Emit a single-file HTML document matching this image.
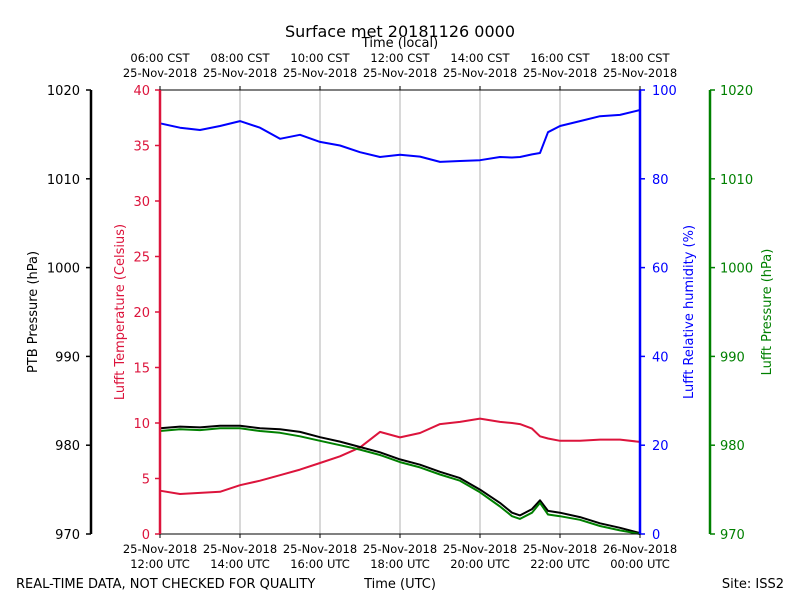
<!DOCTYPE html>
<html><head><meta charset="utf-8"><style>
body{margin:0;background:#fff}
svg{font-family:"DejaVu Sans","Liberation Sans",sans-serif}
</style></head><body>
<svg id="c" width="800" height="600" viewBox="0 0 800 600">
<rect width="800" height="600" fill="#fff"/>
<text x="400" y="37" font-size="16" text-anchor="middle">Surface met 20181126 0000</text>
<text x="400" y="47" font-size="13" text-anchor="middle">Time (local)</text>
<g id="grid"></g>
<g id="series"></g>
<g id="axes"></g>
<text x="16" y="588" font-size="13">REAL-TIME DATA, NOT CHECKED FOR QUALITY</text>
<text x="400" y="588" font-size="13" text-anchor="middle">Time (UTC)</text>
<text x="784" y="588" font-size="13" text-anchor="end">Site: ISS2</text>
<text transform="translate(37,312) rotate(-90)" font-size="13" text-anchor="middle">PTB Pressure (hPa)</text>
<text transform="translate(124,312) rotate(-90)" font-size="13" fill="#dc143c" text-anchor="middle">Lufft Temperature (Celsius)</text>
<text transform="translate(693,312) rotate(-90)" font-size="13" fill="#0000ff" text-anchor="middle">Lufft Relative humidity (%)</text>
<text transform="translate(771,312) rotate(-90)" font-size="13" fill="#008000" text-anchor="middle">Lufft Pressure (hPa)</text>
</svg>
<script>
const hours=[0,0.5,1,1.5,2,2.5,3,3.5,4,4.5,5,5.5,6,6.5,7,7.5,8,8.5,8.8,9,9.3,9.5,9.7,10,10.5,11,11.5,12];
const tempC=[3.9,3.6,3.7,3.8,4.4,4.8,5.3,5.8,6.4,7.0,7.8,9.2,8.7,9.1,9.9,10.1,10.4,10.1,10.0,9.9,9.5,8.8,8.6,8.4,8.4,8.5,8.5,8.3];
const ptbP=[981.9,982.1,982.0,982.2,982.2,981.9,981.8,981.5,980.9,980.4,979.8,979.2,978.4,977.8,977.0,976.3,975.0,973.5,972.4,972.1,972.8,973.8,972.6,972.4,971.9,971.2,970.7,970.1];
const lufftP=[981.6,981.8,981.7,981.9,981.9,981.6,981.4,981.0,980.5,980.0,979.5,978.9,978.1,977.5,976.7,976.0,974.7,973.1,972.0,971.7,972.4,973.5,972.2,972.0,971.6,970.9,970.4,970.0];
const rh=[92.5,91.5,91.0,91.9,93.0,91.5,89.0,89.9,88.3,87.5,86.0,84.9,85.4,85.0,83.8,84.0,84.2,84.9,84.8,84.9,85.5,85.8,90.5,91.9,93.0,94.1,94.4,95.5];
const bottomTicks=["25-Nov-2018|12:00 UTC","25-Nov-2018|14:00 UTC","25-Nov-2018|16:00 UTC","25-Nov-2018|18:00 UTC","25-Nov-2018|20:00 UTC","25-Nov-2018|22:00 UTC","26-Nov-2018|00:00 UTC"];
const topTicks=["06:00 CST|25-Nov-2018","08:00 CST|25-Nov-2018","10:00 CST|25-Nov-2018","12:00 CST|25-Nov-2018","14:00 CST|25-Nov-2018","16:00 CST|25-Nov-2018","18:00 CST|25-Nov-2018"];
const tempTicks=[0,5,10,15,20,25,30,35,40];
const rhTicks=[0,20,40,60,80,100];
const pTicks=[970,980,990,1000,1010,1020];

const NS="http://www.w3.org/2000/svg";
const L=160,R=640,T=90,B=534;
const xs=h=>L+(R-L)*h/12;
const yT=v=>B-(B-T)*v/40;
const yRH=v=>B-(B-T)*v/100;
const yP=v=>B-(B-T)*(v-970)/50;
function mk(tag,attrs,parent){const e=document.createElementNS(NS,tag);for(const k in attrs)e.setAttribute(k,attrs[k]);parent.appendChild(e);return e;}
const grid=document.getElementById('grid'),ser=document.getElementById('series'),ax=document.getElementById('axes');
for(let i=1;i<6;i++){const g=mk('line',{x1:xs(i*2),x2:xs(i*2),y1:T,y2:B,stroke:'#b0b0b0','stroke-width':1},grid);

}
function line(vals,fy,color,w,name){const d=hours.map((h,i)=>(i?'L':'M')+xs(h).toFixed(1)+','+fy(vals[i]).toFixed(1)).join('');
const p=mk('path',{d:d,fill:'none',stroke:color,'stroke-width':w,'stroke-linejoin':'round'},ser);

}
line(rh,yRH,'#0000ff',2,'humidity-line');
line(tempC,yT,'#dc143c',2,'temperature-line');
line(ptbP,yP,'#000000',2,'ptb-pressure-line');
line(lufftP,yP,'#008000',2,'lufft-pressure-line');
const fr=mk('rect',{x:L,y:T,width:R-L,height:B-T,fill:'none',stroke:'#000','stroke-width':1},ax);


function spine(x,color,name){const s=mk('line',{x1:x,x2:x,y1:T,y2:B,stroke:color,'stroke-width':2.5},ax);

}
spine(91,'#000','ptb-pressure-axis');spine(L,'#dc143c','temperature-axis');spine(R,'#0000ff','humidity-axis');spine(710,'#008000','lufft-pressure-axis');
function ylab(x,y,txt,color,anchor,name){const t=mk('text',{x:x,y:y+5,'font-size':13,fill:color,'text-anchor':anchor},ax);t.textContent=txt;

}
pTicks.forEach(v=>{const y=yP(v);mk('line',{x1:86,x2:91,y1:y,y2:y,stroke:'#000','stroke-width':1.5},ax);ylab(80,y,v,'#000','end','ptb-tick-label');
mk('line',{x1:710,x2:715,y1:y,y2:y,stroke:'#008000','stroke-width':1.5},ax);ylab(720,y,v,'#008000','start','lufft-pressure-tick-label');});
tempTicks.forEach(v=>{const y=yT(v);mk('line',{x1:155,x2:160,y1:y,y2:y,stroke:'#dc143c','stroke-width':1.5},ax);ylab(150,y,v,'#dc143c','end','temperature-tick-label');});
rhTicks.forEach(v=>{const y=yRH(v);mk('line',{x1:640,x2:645,y1:y,y2:y,stroke:'#0000ff','stroke-width':1.5},ax);ylab(652,y,v,'#0000ff','start','humidity-tick-label');});
bottomTicks.forEach((s,i)=>{const x=xs(i*2);mk('line',{x1:x,x2:x,y1:B,y2:B+4,stroke:'#000'},ax);const p=s.split('|');
[p[0],p[1]].forEach((tx,j)=>{const t=mk('text',{x:x,y:553+j*15,'font-size':11.5,'text-anchor':'middle'},ax);t.textContent=tx;

});});
topTicks.forEach((s,i)=>{const x=xs(i*2);mk('line',{x1:x,x2:x,y1:T-4,y2:T,stroke:'#000'},ax);const p=s.split('|');
[p[0],p[1]].forEach((tx,j)=>{const t=mk('text',{x:x,y:62+j*15,'font-size':11.5,'text-anchor':'middle'},ax);t.textContent=tx;

});});
</script>
</body></html>
